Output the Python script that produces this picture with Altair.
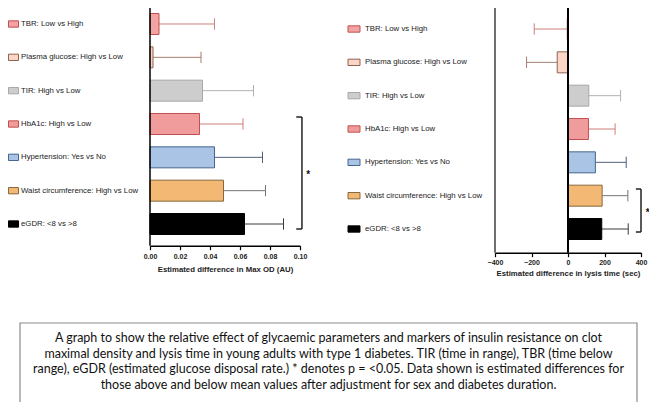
import altair as alt
import pandas as pd

# ---------------- data ----------------
labels = [
    "TBR: Low vs High",
    "Plasma glucose: High vs Low",
    "TIR: High vs Low",
    "HbA1c: High vs Low",
    "Hypertension: Yes vs No",
    "Waist circumference: High vs Low",
    "eGDR: <8 vs >8",
]
od_est = [0.006, 0.002, 0.035, 0.033, 0.043, 0.049, 0.063]
od_ci_end = [0.043, 0.034, 0.069, 0.062, 0.075, 0.077, 0.089]
lysis_est = [-4, -59, 114, 112, 150, 187, 185]
lysis_ci_end = [-185, -227, 288, 258, 319, 328, 330]

fills = ["#f3a3a3", "#fbd6c6", "#cdcdcd", "#f19c9c", "#aac4e6", "#f2b874", "#000000"]
strokes = ["#c0504d", "#8e6352", "#a8a8a8", "#c0504d", "#44668f", "#86693d", "#000000"]
err_colors = ["#cf7f7c", "#a57c6c", "#b2b2b2", "#d07d7a", "#4f5e7a", "#767676", "#3a3a3a"]

od_ticks = [0, 0.02, 0.04, 0.06, 0.08, 0.10]
lysis_ticks = [-400, -200, 0, 200, 400]

od_title = "Estimated difference in Max OD (AU)"
lysis_title = "Estimated difference in lysis time (sec)"

# significance brackets (data coordinates: x value, row positions)
sig_left = {"x": 0.1013, "x_stub": 0.0975, "top": 2.79, "bottom": 6.15, "star_x": 0.1055, "star_row": 4.47}
sig_right = {"x": 400, "x_stub": 372, "top": 4.8, "bottom": 6.09, "star_x": 437, "star_row": 5.45}

caption_lines = [
    "A graph to show the relative effect of glycaemic parameters and markers of insulin resistance on clot",
    "maximal density and lysis time in young adults with type 1 diabetes. TIR (time in range), TBR (time below",
    "range), eGDR (estimated glucose disposal rate.) * denotes p = <0.05. Data shown is estimated differences for",
    "those above and below mean values after adjustment for sex and diabetes duration.",
]

# ---------------- layout ----------------
W, H = 641, 394
df = pd.DataFrame({
    "label": labels, "row": list(range(len(labels))),
    "od": od_est, "od_end": od_ci_end,
    "lys": lysis_est, "lys_end": lysis_ci_end,
    "fill": fills, "stroke": strokes, "ecol": err_colors,
})

LX = alt.Scale(domain=[0, 0.1], range=[142, 292], nice=False, zero=False)
RX = alt.Scale(domain=[-400, 400], range=[487, 633], nice=False, zero=False)
LY = alt.Scale(domain=[-0.5, 6.5], range=[-0.67, 232.67], nice=False, zero=False)
RY = alt.Scale(domain=[-0.5, 6.5], range=[4.33, 237.67], nice=False, zero=False)

FONT = "Liberation Sans"

def axis(values, fmt, title, offset, lpad, tpad):
    return alt.Axis(values=values, format=fmt, orient="bottom", offset=offset, title=title,
                    labelFont=FONT, labelFontWeight="bold", labelFontSize=7, labelColor="#222",
                    titleFont=FONT, titleFontWeight="bold", titleFontSize=7.8, titleColor="#222",
                    domainColor="#000", domainWidth=1.4, tickColor="#000", tickWidth=1.2,
                    tickSize=4, labelPadding=lpad, titlePadding=tpad, grid=False, labelFlush=False)

base = alt.Chart(df).transform_calculate(
    y0="datum.row - 0.315", y1="datum.row + 0.315",
    c0="datum.row - 0.17", c1="datum.row + 0.17",
    m0="datum.row - 0.095", m1="datum.row + 0.095",
)

def panel(xf, endf, XS, YS, ax, label_x, mk0, mk1):
    bars = base.mark_rect(strokeWidth=1).encode(
        x=alt.X(f"{xf}:Q", scale=XS, axis=ax),
        x2=alt.datum(0),
        y=alt.Y("y0:Q", scale=YS, axis=None), y2="y1:Q",
        fill=alt.Fill("fill:N", scale=None), stroke=alt.Stroke("stroke:N", scale=None),
    )
    err = base.mark_rule(strokeWidth=1).encode(
        x=alt.X(f"{xf}:Q", scale=XS, axis=None), x2=f"{endf}:Q",
        y=alt.Y("row:Q", scale=YS, axis=None),
        color=alt.Color("ecol:N", scale=None),
    )
    cap = base.mark_rule(strokeWidth=1).encode(
        x=alt.X(f"{endf}:Q", scale=XS, axis=None),
        y=alt.Y("c0:Q", scale=YS, axis=None), y2="c1:Q",
        color=alt.Color("ecol:N", scale=None),
    )
    marks = base.mark_rect(strokeWidth=1).encode(
        x=alt.value(mk0), x2=alt.value(mk1),
        y=alt.Y("m0:Q", scale=YS, axis=None), y2="m1:Q",
        fill=alt.Fill("fill:N", scale=None), stroke=alt.Stroke("stroke:N", scale=None),
    )
    text = base.mark_text(align="left", baseline="middle", font=FONT, fontSize=7.8, color="#222").encode(
        x=alt.value(label_x), y=alt.Y("row:Q", scale=YS, axis=None), text="label:N",
    )
    return [err, cap, bars, marks, text]

left_layers = panel("od", "od_end", LX, LY,
                    axis(od_ticks, ".2f", od_title, -156.3, 2.5, 6), 13, 0.5, 10.5)
right_layers = panel("lys", "lys_end", RX, RY,
                     axis(lysis_ticks, "d", lysis_title, -149.3, 1.5, 4.5), 357, 340, 352)

one = pd.DataFrame({"k": [0]})

def vline(xv, XS, ytop, ybot, color, width):
    return alt.Chart(one).mark_rule(color=color, strokeWidth=width).encode(
        x=alt.XDatum(xv, scale=XS, axis=None), y=alt.value(ytop), y2=alt.value(ybot))

axis_lines = [
    vline(0, LX, -8, 237.7, "#000", 1.5),
    vline(-400, RX, -1, 244.7, "#222", 1.3),
    vline(0, RX, -2, 244.7, "#000", 2),
]

def bracket(s, XS, YS):
    d = pd.DataFrame([s])
    v = alt.Chart(d).mark_rule(color="#222", strokeWidth=1.5).encode(
        x=alt.X("x:Q", scale=XS, axis=None),
        y=alt.Y("top:Q", scale=YS, axis=None), y2="bottom:Q")
    t = alt.Chart(d).mark_rule(color="#222", strokeWidth=1.5).encode(
        x=alt.X("x_stub:Q", scale=XS, axis=None), x2="x:Q",
        y=alt.Y("top:Q", scale=YS, axis=None))
    b = alt.Chart(d).mark_rule(color="#222", strokeWidth=1.5).encode(
        x=alt.X("x_stub:Q", scale=XS, axis=None), x2="x:Q",
        y=alt.Y("bottom:Q", scale=YS, axis=None))
    star = alt.Chart(d).mark_text(text="*", font=FONT, fontSize=10, fontWeight="bold",
                                  color="#111", baseline="middle", dy=2).encode(
        x=alt.X("star_x:Q", scale=XS, axis=None),
        y=alt.Y("star_row:Q", scale=YS, axis=None))
    return [v, t, b, star]

cap_df = pd.DataFrame({"t": ["\n".join(caption_lines)]})
cap_box = alt.Chart(one).mark_rect(fill="white", stroke="#8c8c8c", strokeWidth=1.2).encode(
    x=alt.value(12), x2=alt.value(629), y=alt.value(315), y2=alt.value(398))
cap_text = alt.Chart(cap_df).mark_text(align="center", baseline="middle", lineBreak="\n",
                                       lineHeight=15.7, font="Lato", fontSize=12.5,
                                       color="#111").encode(
    x=alt.value(320.5), y=alt.value(330), text="t:N")

layers = (left_layers + right_layers + axis_lines
          + bracket(sig_left, LX, LY) + bracket(sig_right, RX, RY)
          + [cap_box, cap_text])

chart = alt.layer(*layers).resolve_scale(x="independent", y="independent").properties(
    width=W, height=H, padding=0, autosize=alt.AutoSizeParams(type="none"), background="white"
).configure_view(stroke=None)

chart.save("out.html", embed_options={"renderer": "svg", "actions": False})
